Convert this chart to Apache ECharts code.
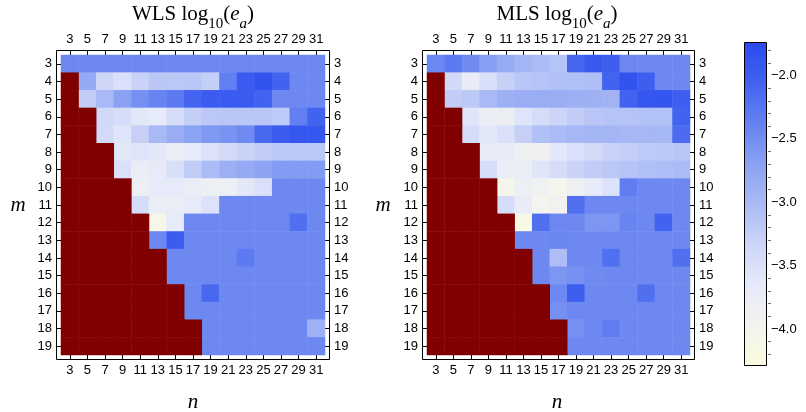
<!DOCTYPE html>
<html>
<head>
<meta charset="utf-8">
<script src="https://cdn.jsdelivr.net/npm/echarts@6/dist/echarts.min.js"></script>
<style>
  html, body { margin: 0; padding: 0; background: #fff; }
  #chart { width: 806px; height: 412px; }
</style>
</head>
<body>
<div id="chart"></div>
<script>
// Column parameter n (odd values) and row parameter m
const nValues = [3, 5, 7, 9, 11, 13, 15, 17, 19, 21, 23, 25, 27, 29, 31];
const mValues = [3, 4, 5, 6, 7, 8, 9, 10, 11, 12, 13, 14, 15, 16, 17, 18, 19];

// log10(e_a) for the weighted least squares fit; null = no fit (n < m)
const wlsLogEa = [
  [-2.45, -2.45, -2.45, -2.45, -2.45, -2.45, -2.45, -2.45, -2.45, -2.45, -2.45, -2.45, -2.45, -2.45, -2.45],
  [null, -2.80, -3.35, -3.50, -3.30, -3.15, -3.17, -3.15, -3.25, -2.35, -1.95, -1.85, -2.05, -2.45, -2.45],
  [null, -3.22, -3.00, -2.70, -2.52, -2.40, -2.30, -2.08, -1.97, -1.95, -1.95, -2.05, -2.45, -2.45, -2.45],
  [null, null, -3.38, -3.45, -3.62, -3.65, -3.45, -3.25, -3.17, -3.15, -3.15, -3.15, -3.20, -2.35, -2.05],
  [null, null, -3.40, -3.55, -3.27, -3.00, -2.85, -2.72, -2.60, -2.55, -2.47, -2.12, -1.97, -1.90, -1.90],
  [null, null, null, -3.62, -3.55, -3.62, -3.75, -3.67, -3.52, -3.42, -3.30, -3.22, -3.17, -3.17, -3.17],
  [null, null, null, -3.50, -3.75, -3.67, -3.48, -3.22, -3.03, -2.87, -2.80, -2.73, -2.63, -2.63, -2.63],
  [null, null, null, null, -3.82, -3.67, -3.67, -3.75, -3.82, -3.82, -3.62, -3.50, -2.45, -2.45, -2.45],
  [null, null, null, null, -3.45, -3.75, -3.75, -3.65, -3.52, -2.45, -2.45, -2.45, -2.45, -2.45, -2.45],
  [null, null, null, null, null, -4.10, -3.67, -2.45, -2.45, -2.45, -2.45, -2.45, -2.45, -2.20, -2.45],
  [null, null, null, null, null, -2.45, -1.97, -2.45, -2.45, -2.45, -2.45, -2.45, -2.45, -2.45, -2.45],
  [null, null, null, null, null, null, -2.45, -2.45, -2.45, -2.45, -2.30, -2.45, -2.45, -2.45, -2.45],
  [null, null, null, null, null, null, -2.45, -2.45, -2.45, -2.45, -2.45, -2.45, -2.45, -2.45, -2.45],
  [null, null, null, null, null, null, null, -2.45, -2.12, -2.45, -2.45, -2.45, -2.45, -2.45, -2.45],
  [null, null, null, null, null, null, null, -2.45, -2.45, -2.45, -2.45, -2.45, -2.45, -2.45, -2.45],
  [null, null, null, null, null, null, null, null, -2.45, -2.45, -2.45, -2.45, -2.45, -2.45, -2.90],
  [null, null, null, null, null, null, null, null, -2.45, -2.45, -2.45, -2.45, -2.45, -2.45, -2.45]
];

// log10(e_a) for the moving least squares fit; null = no fit (n < m)
const mlsLogEa = [
  [-2.43, -2.30, -2.47, -2.67, -2.82, -2.95, -3.02, -3.12, -2.10, -1.93, -2.00, -2.45, -2.45, -2.45, -2.45],
  [null, -3.38, -3.74, -3.48, -3.28, -3.15, -3.12, -3.08, -3.08, -3.05, -2.05, -1.85, -2.00, -2.45, -2.45],
  [null, -3.22, -3.18, -3.00, -2.88, -2.85, -2.85, -2.86, -2.88, -2.90, -2.93, -2.05, -1.90, -1.88, -2.00],
  [null, null, -3.58, -3.78, -3.80, -3.55, -3.43, -3.32, -3.22, -3.15, -3.12, -3.12, -3.10, -3.10, -2.05],
  [null, null, -3.43, -3.62, -3.50, -3.27, -3.08, -3.02, -2.98, -2.95, -2.95, -2.98, -2.98, -2.97, -2.15],
  [null, null, null, -3.72, -3.72, -3.90, -3.88, -3.60, -3.50, -3.40, -3.30, -3.25, -3.20, -3.18, -3.15],
  [null, null, null, -3.45, -3.75, -3.75, -3.58, -3.45, -3.30, -3.22, -3.17, -3.12, -3.08, -3.05, -3.02],
  [null, null, null, null, -4.05, -3.82, -3.92, -4.05, -3.85, -3.65, -3.52, -2.33, -2.45, -2.45, -2.45],
  [null, null, null, null, -3.45, -3.72, -4.00, -3.95, -2.20, -2.45, -2.45, -2.45, -2.45, -2.45, -2.45],
  [null, null, null, null, null, -4.20, -2.20, -2.45, -2.45, -2.58, -2.58, -2.40, -2.45, -2.05, -2.45],
  [null, null, null, null, null, -2.45, -2.45, -2.42, -2.45, -2.45, -2.45, -2.45, -2.45, -2.45, -2.45],
  [null, null, null, null, null, null, -2.45, -3.05, -2.45, -2.45, -2.20, -2.45, -2.45, -2.45, -2.20],
  [null, null, null, null, null, null, -2.45, -2.58, -2.53, -2.47, -2.45, -2.45, -2.45, -2.45, -2.45],
  [null, null, null, null, null, null, null, -2.45, -2.00, -2.45, -2.45, -2.45, -2.20, -2.45, -2.45],
  [null, null, null, null, null, null, null, -2.52, -2.45, -2.45, -2.45, -2.45, -2.45, -2.45, -2.45],
  [null, null, null, null, null, null, null, null, -2.52, -2.45, -2.33, -2.45, -2.45, -2.45, -2.45],
  [null, null, null, null, null, null, null, null, -2.45, -2.45, -2.45, -2.45, -2.45, -2.45, -2.45]
];

// Colour scale range and its legend ticks
const colorRange = [-4.292, -1.736];
const colorMajorTicks = [-4.0, -3.5, -3.0, -2.5, -2.0];
const colorMinorTicks = [-4.2, -4.1, -3.9, -3.8, -3.7, -3.6, -3.4, -3.3, -3.2, -3.1,
                         -2.9, -2.8, -2.7, -2.6, -2.4, -2.3, -2.2, -2.1, -1.9, -1.8];
const scaleColors = ['#fbfbdf', '#f2f3ef', '#e6eaf9', '#cdd6f8', '#aabaf5',
                     '#8aa1f3', '#6482f1', '#4262f0', '#2a4aef'];
const missingColor = '#800000';

// Split a grid of values into [col, row, value] cells and missing cells
function toCells(rows) {
  const values = [], missing = [];
  rows.forEach((row, j) => row.forEach((v, i) => {
    if (v === null) missing.push([i, j, 1]);
    else values.push([i, j, v]);
  }));
  return { values, missing };
}
const wls = toCells(wlsLogEa);
const mls = toCells(mlsLogEa);

const tickFont = { fontFamily: 'Liberation Sans', fontSize: 13, color: '#000' };
const tickStyle = { show: true, alignWithLabel: true, inside: true, length: 4,
                    lineStyle: { color: '#000', width: 1 } };

function xCat(gridIndex, position) {
  return {
    type: 'category', gridIndex, position, offset: 4, data: nValues.map(String),
    axisLine: { show: false }, axisTick: tickStyle, splitLine: { show: false },
    axisLabel: Object.assign({ interval: 0, margin: 5 }, tickFont)
  };
}
function yCat(gridIndex, position) {
  return {
    type: 'category', gridIndex, position, offset: 4, inverse: true, data: mValues.map(String),
    axisLine: { show: false }, axisTick: tickStyle, splitLine: { show: false },
    axisLabel: Object.assign({ interval: 0, margin: 5 }, tickFont)
  };
}

const grids = [
  { left: 61, top: 55, width: 264, height: 300 },
  { left: 427, top: 55, width: 263, height: 300 },
  { left: 744, top: 42, width: 23, height: 324 }
];

const minusFmt = v => (v < 0 ? '\u2212' : '') + Math.abs(v).toFixed(1);

const titleRich = {
  a: { fontFamily: 'Liberation Serif', fontSize: 21, lineHeight: 25, verticalAlign: 'top', color: '#000' },
  i: { fontFamily: 'Liberation Serif', fontStyle: 'italic', fontSize: 21, lineHeight: 25, verticalAlign: 'top', color: '#000' },
  s: { fontFamily: 'Liberation Serif', fontSize: 15, lineHeight: 15, padding: [13, 0, 0, 0], verticalAlign: 'top', color: '#000' },
  si: { fontFamily: 'Liberation Serif', fontStyle: 'italic', fontSize: 15, lineHeight: 15, padding: [13, 0, 0, 0], verticalAlign: 'top', color: '#000' }
};
function titleText(x, label) {
  return {
    type: 'text', x, y: 4, z: 100,
    style: {
      text: '{a|' + label + ' log}{s|10}{a|(}{i|e}{si|a}{a|)}',
      rich: titleRich, align: 'center', verticalAlign: 'top'
    }
  };
}
function italicLabel(x, y, s) {
  return {
    type: 'text', x, y, z: 100,
    style: { text: s, fontFamily: 'Liberation Serif', fontStyle: 'italic', fontSize: 21,
             fill: '#000', align: 'center', verticalAlign: 'middle' }
  };
}
function frame(x, y, w, h) {
  return { type: 'rect', z: 100, shape: { x, y, width: w, height: h },
           style: { fill: 'none', stroke: '#000', lineWidth: 1 } };
}

const option = {
  animation: false,
  backgroundColor: '#fff',
  grid: grids,
  xAxis: [
    xCat(0, 'bottom'), xCat(0, 'top'),
    xCat(1, 'bottom'), xCat(1, 'top'),
    { type: 'value', gridIndex: 2, show: false, min: 0, max: 1 }
  ],
  yAxis: [
    yCat(0, 'left'), yCat(0, 'right'),
    yCat(1, 'left'), yCat(1, 'right'),
    {
      type: 'value', gridIndex: 2, position: 'right', offset: 1,
      min: colorRange[0], max: colorRange[1],
      axisLine: { show: false }, splitLine: { show: false },
      axisTick: { show: true, length: 4, customValues: colorMajorTicks, lineStyle: { color: '#000' } },
      axisLabel: Object.assign({ margin: 3, customValues: colorMajorTicks, formatter: minusFmt }, tickFont)
    },
    {
      type: 'value', gridIndex: 2, position: 'right', offset: 1,
      min: colorRange[0], max: colorRange[1],
      axisLine: { show: false }, splitLine: { show: false },
      axisTick: { show: true, length: 3, customValues: colorMinorTicks, lineStyle: { color: '#777' } },
      axisLabel: { show: false }
    }
  ],
  visualMap: {
    type: 'continuous', seriesIndex: [0, 2],
    min: colorRange[0], max: colorRange[1],
    left: 744, top: 42, itemWidth: 23, itemHeight: 324,
    padding: 0, calculable: false, hoverLink: false, text: null, showLabel: false,
    inRange: { color: scaleColors }
  },
  series: [
    { name: 'WLS', type: 'heatmap', xAxisIndex: 0, yAxisIndex: 0, data: wls.values,
      itemStyle: { borderWidth: 0 }, emphasis: { disabled: true } },
    { name: 'WLS missing', type: 'heatmap', xAxisIndex: 0, yAxisIndex: 0, data: wls.missing,
      itemStyle: { color: missingColor, borderWidth: 0 }, emphasis: { disabled: true } },
    { name: 'MLS', type: 'heatmap', xAxisIndex: 2, yAxisIndex: 2, data: mls.values,
      itemStyle: { borderWidth: 0 }, emphasis: { disabled: true } },
    { name: 'MLS missing', type: 'heatmap', xAxisIndex: 2, yAxisIndex: 2, data: mls.missing,
      itemStyle: { color: missingColor, borderWidth: 0 }, emphasis: { disabled: true } }
  ],
  graphic: [
    frame(56.5, 50.5, 273, 309),
    frame(422.5, 50.5, 272, 309),
    frame(744.5, 42.5, 22, 323),
    titleText(193, 'WLS'),
    titleText(557, 'MLS'),
    italicLabel(193, 402, 'n'),
    italicLabel(557, 402, 'n'),
    italicLabel(18, 205, 'm'),
    italicLabel(383, 205, 'm')
  ]
};

const chart = echarts.init(document.getElementById('chart'), null, { renderer: 'canvas' });
chart.setOption(option);
</script>
</body>
</html>
